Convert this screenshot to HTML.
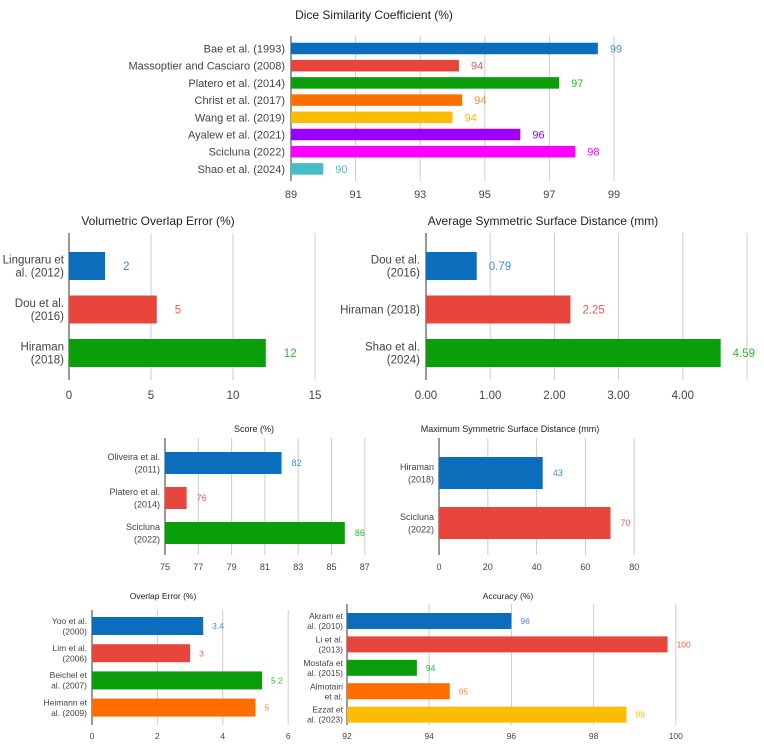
<!DOCTYPE html>
<html><head><meta charset="utf-8"><style>
html,body{margin:0;padding:0;background:#fff;}
svg{display:block;font-family:"Liberation Sans",Arial,sans-serif;}
</style></head><body>
<svg id="c" width="764" height="750" viewBox="0 0 764 750"></svg>
<script>
const dscCats=["Bae et al. (1993)","Massoptier and Casciaro (2008)","Platero et al. (2014)","Christ et al. (2017)","Wang et al. (2019)","Ayalew et al. (2021)","Scicluna (2022)","Shao et al. (2024)"];
const dscVals=[98.5,94.2,97.3,94.3,94.0,96.1,97.8,90.0];
const dscLabels=["99","94","97","94","94","96","98","90"];
const dscTicks=[89,91,93,95,97,99];
const voeCats=["Linguraru et\nal. (2012)","Dou et al.\n(2016)","Hiraman\n(2018)"];
const voeVals=[2.2,5.35,12.0];
const voeLabels=["2","5","12"];
const voeTicks=[0,5,10,15];
const assdCats=["Dou et al.\n(2016)","Hiraman (2018)","Shao et al.\n(2024)"];
const assdVals=[0.79,2.25,4.59];
const assdLabels=["0.79","2.25","4.59"];
const assdTicks=["0.00","1.00","2.00","3.00","4.00",""];
const scoreCats=["Oliveira et al.\n(2011)","Platero et al.\n(2014)","Scicluna\n(2022)"];
const scoreVals=[82.0,76.3,85.8];
const scoreLabels=["82","76","86"];
const scoreTicks=[75,77,79,81,83,85,87];
const mssdCats=["Hiraman\n(2018)","Scicluna\n(2022)"];
const mssdVals=[42.5,70.3];
const mssdLabels=["43","70"];
const mssdTicks=[0,20,40,60,80];
const oeCats=["Yoo et al.\n(2000)","Lim et al.\n(2006)","Beichel et\nal. (2007)","Heimann et\nal. (2009)"];
const oeVals=[3.4,3.0,5.2,5.0];
const oeLabels=["3.4","3","5.2","5"];
const oeTicks=[0,2,4,6];
const accCats=["Akram et\nal. (2010)","Li et al.\n(2013)","Mostafa et\nal. (2015)","Almotairi\net al.","Ezzat et\nal. (2023)"];
const accVals=[96.0,99.8,93.7,94.5,98.8];
const accLabels=["96","100","94","95","99"];
const accTicks=[92,94,96,98,100];

const FILL=["#0a6ebd","#e8453c","#0a9e0a","#ff6d00","#fbbc04","#9900ff","#ff00ff","#46bdc6"];
const TXT=["#3d8fdc","#ef5a50","#2eb82e","#ff8a33","#fbbc04","#9900ff","#ff00ff","#46bdc6"];
const svg=document.getElementById('c');
const NS="http://www.w3.org/2000/svg";
function mk(t,a,p){const e=document.createElementNS(NS,t);for(const k in a)e.setAttribute(k,a[k]);(p||svg).appendChild(e);return e;}

function chart(name,title,cats,vals,labels,ticks,L){
  const g=mk('g',{});
  
  
  const sx=v=>L.x0+(v-L.vmin)*L.ppu;
  const t=mk('text',{x:L.tx,y:L.ty,'text-anchor':'middle','font-size':L.tfs,fill:'#222'},g);
  t.textContent=title;
  
  
  ticks.forEach((tk,i)=>{
    const v=L.vmin+i*L.step;
    const x=sx(v);
    const gl=mk('line',{x1:x,x2:x,y1:L.gy0,y2:L.gy1,stroke:i===0?'#333':'#ccc','stroke-width':1},g);
    
    
    const tl=mk('text',{x:x,y:L.tky,'text-anchor':'middle','font-size':L.fs,fill:'#444'},g);
    tl.textContent=tk;
    
    
  });
  cats.forEach((c,i)=>{
    const cy=L.r0+i*L.rs;
    const b=mk('rect',{x:sx(L.vmin),y:cy-L.bh/2,width:Math.max(0,sx(vals[i])-sx(L.vmin)),height:L.bh,fill:FILL[i]},g);
    
    
    const vl=mk('text',{x:sx(vals[i])+L.vo,y:cy+L.fs*0.36,'font-size':L.fs,fill:TXT[i]},g);
    vl.textContent=labels[i];
    
    
    const lines=c.split('\n');
    lines.forEach((ln,j)=>{
      const y=cy+L.fs*0.36+(j-(lines.length-1)/2)*L.lh;
      const cl=mk('text',{x:L.lx,y:y,'text-anchor':'end','font-size':L.fs,fill:'#444'},g);
      cl.textContent=ln;
      
      
    });
  });
}
chart('dice','Dice Similarity Coefficient (%)',dscCats,dscVals,dscLabels,dscTicks,
 {x0:291,vmin:89,step:2,ppu:32.3,tx:374,ty:19,tfs:12,fs:11,lh:13,gy0:36,gy1:181,tky:198,r0:48.5,rs:17.2,bh:11.5,vo:12,lx:285});
chart('voe','Volumetric Overlap Error (%)',voeCats,voeVals,voeLabels,voeTicks,
 {x0:69,vmin:0,step:5,ppu:16.4,tx:158,ty:225,tfs:12,fs:11.5,lh:13,gy0:233,gy1:380,tky:399,r0:266,rs:43.5,bh:28,vo:18,lx:64});
chart('assd','Average Symmetric Surface Distance (mm)',assdCats,assdVals,assdLabels,assdTicks,
 {x0:426,vmin:0,step:1,ppu:64.2,tx:543,ty:225,tfs:12,fs:11.5,lh:13,gy0:233,gy1:380,tky:399,r0:266,rs:43.5,bh:28,vo:12,lx:420});
chart('score','Score (%)',scoreCats,scoreVals,scoreLabels,scoreTicks,
 {x0:165,vmin:75,step:2,ppu:16.65,tx:254,ty:432,tfs:9,fs:9,lh:12.5,gy0:438,gy1:555,tky:570,r0:463,rs:35,bh:22,vo:10,lx:160});
chart('mssd','Maximum Symmetric Surface Distance (mm)',mssdCats,mssdVals,mssdLabels,mssdTicks,
 {x0:439,vmin:0,step:20,ppu:2.44,tx:510,ty:432,tfs:9,fs:9,lh:12.5,gy0:438,gy1:555,tky:570,r0:473,rs:50,bh:32,vo:10,lx:434});
chart('overlap-error','Overlap Error (%)',oeCats,oeVals,oeLabels,oeTicks,
 {x0:92,vmin:0,step:2,ppu:32.7,tx:163,ty:599,tfs:8.5,fs:8.5,lh:10.5,gy0:610,gy1:725,tky:739,r0:626,rs:27.2,bh:18,vo:9,lx:87});
chart('accuracy','Accuracy (%)',accCats,accVals,accLabels,accTicks,
 {x0:347,vmin:92,step:2,ppu:41.1,tx:508,ty:599,tfs:8.5,fs:8.5,lh:10,gy0:604,gy1:725,tky:739,r0:621,rs:23.4,bh:16,vo:9,lx:343});
</script>
</body></html>
